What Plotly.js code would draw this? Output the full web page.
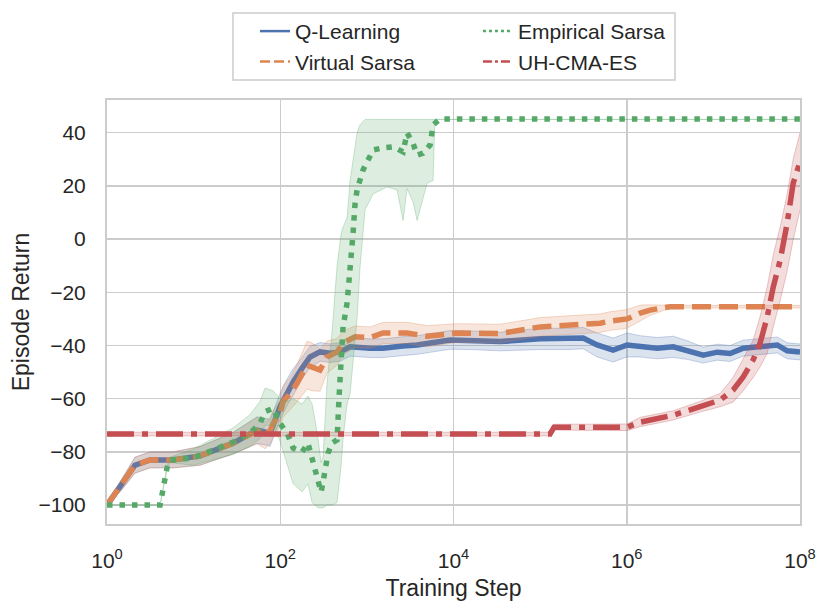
<!DOCTYPE html>
<html><head><meta charset="utf-8">
<script src="https://cdn.plot.ly/plotly-3.0.1.min.js"></script>
<style>html,body{margin:0;padding:0;background:#fff}#chart{width:831px;height:614px}</style>
</head><body><div id="chart"></div>
<script>
// ---- data ----
const qlSteps = [1, 1.5, 2.1, 3.14, 5.78, 11.9, 28.5, 54, 70.4, 76.3, 99.5, 120, 141, 183, 221, 288, 376, 490, 640, 1089, 1538, 2600, 3800, 9140, 15550, 34500, 1e5, 2.22e5, 3.14e5, 4.55e5, 6.96e5, 1.01e6, 1.43e6, 2.24e6, 3.44e6, 4.98e6, 7.63e6, 1.11e7, 1.56e7, 2.21e7, 3.47e7, 5.46e7, 7.11e7, 1e8];
const qlMean = [-100, -92, -85, -83, -83, -81.5, -76.7, -71.8, -72.5, -73, -63, -57.5, -53.7, -48, -44.3, -42.4, -42.9, -42.4, -40.5, -41, -41, -40.2, -39.8, -37.9, -38, -38.5, -37.5, -37.5, -37.2, -39.8, -41.7, -39.8, -40.3, -41, -40.5, -41.7, -43.6, -42.5, -43, -41, -40.5, -39.8, -42, -42.4];
const qlHalf = [0.5, 2, 3, 3, 3, 3.5, 4, 5, 5, 5, 5, 5, 5, 4, 4, 3.5, 3.5, 3.5, 3.5, 3.5, 3.5, 3.5, 3.5, 3.5, 3.5, 3.5, 4, 4, 4, 4.5, 4.5, 4.5, 4, 4, 4, 3.5, 3, 3, 3, 3, 3, 3, 3, 3];

const vsSteps = [1, 1.5, 2.1, 3.14, 5.78, 11.9, 28.5, 54, 66.7, 76.3, 82.6, 99.5, 108, 130, 156, 204, 233, 288, 347, 453, 531, 731, 1089, 1538, 2911, 4955, 11000, 34500, 1e5, 4.93e5, 6.43e5, 1.01e6, 1.43e6, 1.86e6, 3.17e6, 1e8];
const vsMean = [-100, -92, -85, -83, -83, -81.5, -76.7, -72, -73.8, -72, -69.4, -65.5, -61, -58, -54.2, -47.4, -48, -49.2, -44.3, -42.4, -39, -36.7, -37, -35.3, -35.3, -36.5, -35.3, -35.5, -33, -31.6, -30.8, -30, -27.8, -26.7, -25.4, -25.4];
const vsHalf = [0.5, 2, 3, 3, 3, 3.5, 4, 5, 5, 5, 5, 5, 6, 6, 7, 9, 9, 8, 6, 5, 4.5, 4, 4, 4, 4, 4, 3.5, 3.5, 3.5, 3.5, 3.5, 3.5, 3, 2, 0.5, 0.5];

const esSteps = [1, 4.1, 4.93, 5.34, 9.84, 16.7, 28.5, 44.8, 58.4, 66.7, 82.6, 99.5, 120, 141, 179, 209, 233, 252, 273, 296, 312, 356, 396, 453, 478, 504, 517, 531, 591, 640, 693, 731, 771, 903, 1180, 1538, 2009, 2618, 2911, 3415, 3800, 4456, 5370, 5810, 7000, 1e8];
const esMean = [-100, -100, -86, -83, -82.3, -79.3, -76.3, -72.9, -69.3, -64.9, -63.6, -69.3, -72.9, -78.6, -80, -76.7, -82.4, -87.6, -91.8, -95.1, -91.4, -80.5, -76.7, -75.5, -59, -45.4, -38, -33, -24, -12.9, 2.2, 13.5, 18.5, 26, 33.5, 34.3, 34.7, 32.8, 39.9, 36, 31.6, 32.3, 35.4, 42.9, 45.2, 45.2];
const esBandSteps = [1, 4.1, 4.93, 5.34, 9.84, 16.7, 28.5, 44.8, 58.4, 66.7, 82.6, 99.5, 120, 141, 179, 209, 233, 252, 273, 296, 312, 347, 396, 453, 504, 531, 591, 640, 771, 834, 953, 1180, 1711, 2234, 2618, 2911, 3415, 3800, 4456, 4955, 5810, 6100, 1e8];
const esLower = [-100, -100, -87, -84, -85, -83, -81, -78, -75, -70, -70, -76, -85, -92, -95, -92, -99, -100, -101, -101, -101, -100, -100, -99, -85, -75, -62, -58, -30, -10.5, 11, 17, 19.6, 18.5, 7, 19, 14, 7, 15, 21, 22, 45, 45];
const esUpper = [-100, -100, -85, -82, -79, -75, -71, -66, -61, -56, -57, -60, -61, -60, -62, -59, -62, -68, -75, -84, -82, -54, -35, -10, 2, 4.5, 8, 22, 40, 43, 45, 45, 45, 45, 45, 45, 45, 45, 45, 45, 45, 45, 45];

const uhSteps = [1, 1.3e5, 1.45e5, 1.01e6, 1.43e6, 3.44e6, 7.04e6, 1.2e7, 1.69e7, 2.21e7, 2.88e7, 3.47e7, 4.18e7, 4.91e7, 5.91e7, 7.11e7, 8.34e7, 9.29e7, 1e8];
const uhMean = [-73.3, -73.3, -70.7, -70.7, -68.8, -66.2, -63, -60.5, -56.7, -51.8, -45.4, -39, -29.3, -18, -7.9, 6, 21, 27, 29];
const uhLower = [-74, -74, -71.8, -72, -70.5, -68, -65, -63, -61.3, -57, -52, -48, -43, -33, -23, -12, -0.3, 7, 11];
const uhUpper = [-72.6, -72.6, -69.6, -69.5, -67, -64.5, -61, -58, -52, -45, -38, -29, -18, -6, 4.6, 17, 30, 36, 40];

const seriesNames = ['Q-Learning', 'Virtual Sarsa', 'Empirical Sarsa', 'UH-CMA-ES'];
const xTickVals = [1, 100, 1e4, 1e6, 1e8];
const xTickText = ['10<sup>0</sup>', '10<sup>2</sup>', '10<sup>4</sup>', '10<sup>6</sup>', '10<sup>8</sup>'];
const yTickVals = [-100, -80, -60, -40, -20, 0, 20, 40];

// ---- helpers ----
function band(xs, lo, hi, rgb) {
  const edge = {color: 'rgba(' + rgb + ',0.3)', width: 1};
  return [
    {x: xs, y: lo, type: 'scatter', mode: 'lines', line: edge, showlegend: false, hoverinfo: 'skip'},
    {x: xs, y: hi, type: 'scatter', mode: 'lines', line: edge, fill: 'tonexty',
     fillcolor: 'rgba(' + rgb + ',0.2)', showlegend: false, hoverinfo: 'skip'}
  ];
}
const plus = (m, h) => m.map((v, i) => v + h[i]);
const minus = (m, h) => m.map((v, i) => v - h[i]);

const C = {ql: '76,114,176', vs: '221,132,82', es: '85,168,104', uh: '196,78,82'};
const DASH = {ql: 'solid', vs: '19px,8px', es: '5.5px,7px', uh: '27px,8px,6px,8px'};
const LDASH = {ql: 'solid', vs: '10px,4px', es: '3px,3px', uh: '9px,3px,3px,3px'};

function mainLine(xs, ys, key) {
  return {x: xs, y: ys, type: 'scatter', mode: 'lines', showlegend: false, hoverinfo: 'skip',
          line: {color: 'rgb(' + C[key] + ')', width: 5.5, dash: DASH[key]}};
}
function legendOnly(name, key, legendId) {
  return {x: [null], y: [null], type: 'scatter', mode: 'lines', name: name, legend: legendId,
          showlegend: true, line: {color: 'rgb(' + C[key] + ')', width: 2.5, dash: LDASH[key]}};
}

const traces = [].concat(
  band(qlSteps, minus(qlMean, qlHalf), plus(qlMean, qlHalf), C.ql),
  [mainLine(qlSteps, qlMean, 'ql')],
  band(vsSteps, minus(vsMean, vsHalf), plus(vsMean, vsHalf), C.vs),
  [mainLine(vsSteps, vsMean, 'vs')],
  band(esBandSteps, esLower, esUpper, C.es),
  [mainLine(esSteps, esMean, 'es')],
  band(uhSteps, uhLower, uhUpper, C.uh),
  [mainLine(uhSteps, uhMean, 'uh')],
  [legendOnly(seriesNames[0], 'ql', 'legend'),
   legendOnly(seriesNames[1], 'vs', 'legend'),
   legendOnly(seriesNames[2], 'es', 'legend2'),
   legendOnly(seriesNames[3], 'uh', 'legend2')]
);

const FONT = 'Arial, "Liberation Sans", sans-serif';
const TXT = '#262626';
const legendCommon = {
  yanchor: 'top', xanchor: 'left', y: 1.21, traceorder: 'normal',
  bgcolor: 'rgba(0,0,0,0)', borderwidth: 0, tracegroupgap: 0,
  font: {family: FONT, size: 21, color: TXT}
};

const layout = {
  width: 831, height: 614,
  margin: {l: 107, r: 31, t: 100, b: 90, autoexpand: false},
  paper_bgcolor: '#ffffff', plot_bgcolor: '#ffffff',
  font: {family: FONT, size: 21, color: TXT},
  xaxis: {
    type: 'log', range: [0, 8], tickmode: 'array', tickvals: xTickVals, ticktext: xTickText,
    showgrid: true, gridcolor: '#cccccc', gridwidth: 1.5,
    showline: true, mirror: true, linecolor: '#cccccc', linewidth: 2,
    zeroline: false, ticks: '', ticklabelstandoff: 17,
    tickfont: {family: FONT, size: 21, color: TXT},
    title: {text: 'Training Step', font: {family: FONT, size: 23, color: TXT}, standoff: 9}
  },
  yaxis: {
    range: [-107.1, 52.3], tickmode: 'array', tickvals: yTickVals,
    showgrid: true, gridcolor: '#cccccc', gridwidth: 1.5,
    showline: true, mirror: true, linecolor: '#cccccc', linewidth: 2,
    zeroline: false, ticks: '', ticklabelstandoff: 15,
    tickfont: {family: FONT, size: 21, color: TXT},
    title: {text: 'Episode Return', font: {family: FONT, size: 23, color: TXT}, standoff: 2}
  },
  legend: Object.assign({x: 0.2136}, legendCommon),
  legend2: Object.assign({x: 0.5353}, legendCommon),
  shapes: [{
    type: 'rect', xref: 'paper', yref: 'paper', x0: 0.1818, x1: 0.8196, y0: 1.0472, y1: 1.2052,
    line: {color: '#cccccc', width: 1.5}, fillcolor: 'rgba(255,255,255,0.8)', layer: 'above'
  }],
  showlegend: true
};

Plotly.newPlot('chart', traces, layout, {staticPlot: true, displayModeBar: false});
</script></body></html>
